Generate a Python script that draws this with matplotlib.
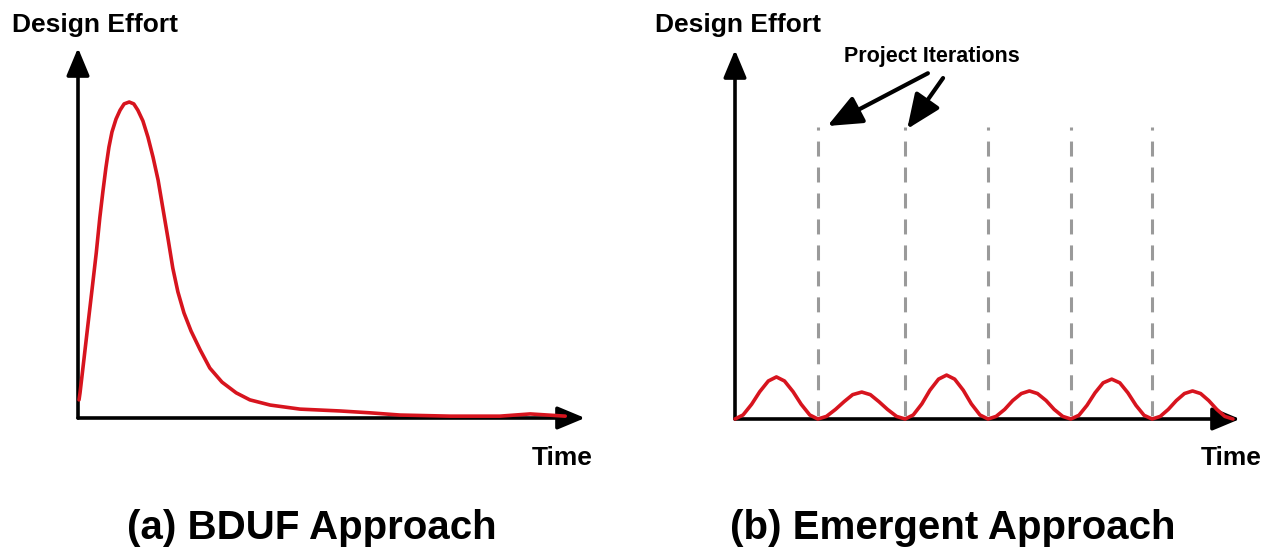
import matplotlib
matplotlib.use("Agg")
from matplotlib import pyplot as plt

# data (time and effort both on a 0..10 scale of the axis length)

bduf_time = [0.02, 0.04, 0.12, 0.20, 0.28, 0.36, 0.43, 0.49, 0.55, 0.61, 0.67, 0.75,
             0.83, 0.91, 1.01, 1.10, 1.18, 1.28, 1.38, 1.48, 1.58, 1.68, 1.78, 1.87,
             1.97, 2.09, 2.23, 2.41, 2.60, 2.84, 3.12, 3.39, 3.79, 4.38, 5.17, 5.76,
             6.35, 7.34, 8.32, 8.92, 9.61]
bduf_effort = [0.49, 0.68, 1.62, 2.57, 3.51, 4.46, 5.41, 6.11, 6.76, 7.32, 7.73, 8.08,
               8.32, 8.49, 8.54, 8.49, 8.32, 8.03, 7.59, 7.05, 6.43, 5.62, 4.81, 4.05,
               3.41, 2.84, 2.35, 1.84, 1.35, 0.97, 0.68, 0.49, 0.35, 0.24, 0.19, 0.14,
               0.08, 0.05, 0.05, 0.11, 0.05]

emerg_time = [0.00, 0.16, 0.33, 0.49, 0.66, 0.82, 0.98, 1.15, 1.31, 1.48,
              1.64, 1.81, 1.99, 2.16, 2.33, 2.51, 2.68, 2.85, 3.02, 3.20,
              3.37, 3.53, 3.70, 3.86, 4.03, 4.19, 4.35, 4.52, 4.68, 4.85,
              5.01, 5.17, 5.34, 5.50, 5.67, 5.83, 5.99, 6.16, 6.32, 6.49,
              6.65, 6.81, 6.97, 7.13, 7.29, 7.46, 7.62, 7.78, 7.94, 8.10,
              8.26, 8.42, 8.58, 8.74, 8.90, 9.06, 9.22, 9.38, 9.54, 9.70, 9.86]
emerg_effort = [0, 0.11, 0.40, 0.74, 1.03, 1.14, 1.03, 0.74, 0.40, 0.11,
                0, 0.07, 0.26, 0.47, 0.66, 0.73, 0.66, 0.47, 0.26, 0.07,
                0, 0.11, 0.41, 0.78, 1.08, 1.19, 1.08, 0.78, 0.41, 0.11,
                0, 0.07, 0.26, 0.50, 0.69, 0.76, 0.69, 0.50, 0.26, 0.07,
                0, 0.10, 0.37, 0.71, 0.98, 1.08, 0.98, 0.71, 0.37, 0.10,
                0, 0.07, 0.26, 0.50, 0.69, 0.76, 0.69, 0.50, 0.26, 0.07, 0]

iterations = [1.64, 3.37, 5.01, 6.65, 8.26]
iter_top = 7.91

red = '#d7141e'
grey = '#9a9a9a'
font = 'Liberation Sans'

fig = plt.figure(figsize=(12.71, 5.48), dpi=100)
W, H = 1271.0, 548.0

axL = fig.add_axes([78 / W, (H - 418) / H, 507 / W, 370 / H])
axR = fig.add_axes([735 / W, (H - 419) / H, 505 / W, 369 / H])

axis_arrow = dict(arrowstyle='-|>,head_length=0.6,head_width=0.25', mutation_scale=28,
                  lw=2.6, color='black', shrinkA=0, shrinkB=0)

for ax in (axL, axR):
    ax.set_xlim(0, 10)
    ax.set_ylim(0, 10)
    ax.axis('off')
    ax.annotate('', xy=(10, 0), xytext=(0, 0), arrowprops=axis_arrow, annotation_clip=False)
    ax.annotate('', xy=(0, 10), xytext=(0, 0), arrowprops=axis_arrow, annotation_clip=False)

axL.plot(bduf_time, bduf_effort, color=red, lw=2.6, solid_joinstyle='round',
         solid_capstyle='round', clip_on=False, zorder=3)

for b in iterations:
    axR.plot([b, b], [iter_top, 0], color=grey, lw=2.2, linestyle=(3.9, (4.9, 3.6)),
             clip_on=False, zorder=1)
axR.plot(emerg_time, emerg_effort, color=red, lw=2.6, solid_joinstyle='round',
         solid_capstyle='round', clip_on=False, zorder=3)

# Project Iterations callout
axR.text(3.90, 9.67, 'Project Iterations', ha='center', va='baseline', fontsize=15.5,
         fontweight='bold', family=font)
pointer = dict(arrowstyle='-|>,head_length=0.75,head_width=0.32', mutation_scale=28,
               lw=3, color='black', shrinkA=0, shrinkB=0)
axR.annotate('', xy=(1.83, 7.94), xytext=(3.82, 9.37), arrowprops=pointer, annotation_clip=False)
axR.annotate('', xy=(3.41, 7.86), xytext=(4.12, 9.24), arrowprops=pointer, annotation_clip=False)

# axis labels
lab = dict(fontsize=19, fontweight='bold', family=font)
fig.text(12 / W, 1 - 32 / H, 'Design Effort', ha='left', va='baseline', **lab)
fig.text(655 / W, 1 - 32 / H, 'Design Effort', ha='left', va='baseline', **lab)
fig.text(593 / W, 1 - 465 / H, 'Time', ha='right', va='baseline', **lab)
fig.text(1262 / W, 1 - 465 / H, 'Time', ha='right', va='baseline', **lab)

# panel titles
ttl = dict(fontsize=29, fontweight='bold', family=font)
fig.text(312 / W, 1 - 539 / H, '(a) BDUF Approach', ha='center', va='baseline', **ttl)
fig.text(953 / W, 1 - 539 / H, '(b) Emergent Approach', ha='center', va='baseline', **ttl)

fig.savefig('out.png', dpi=100)
